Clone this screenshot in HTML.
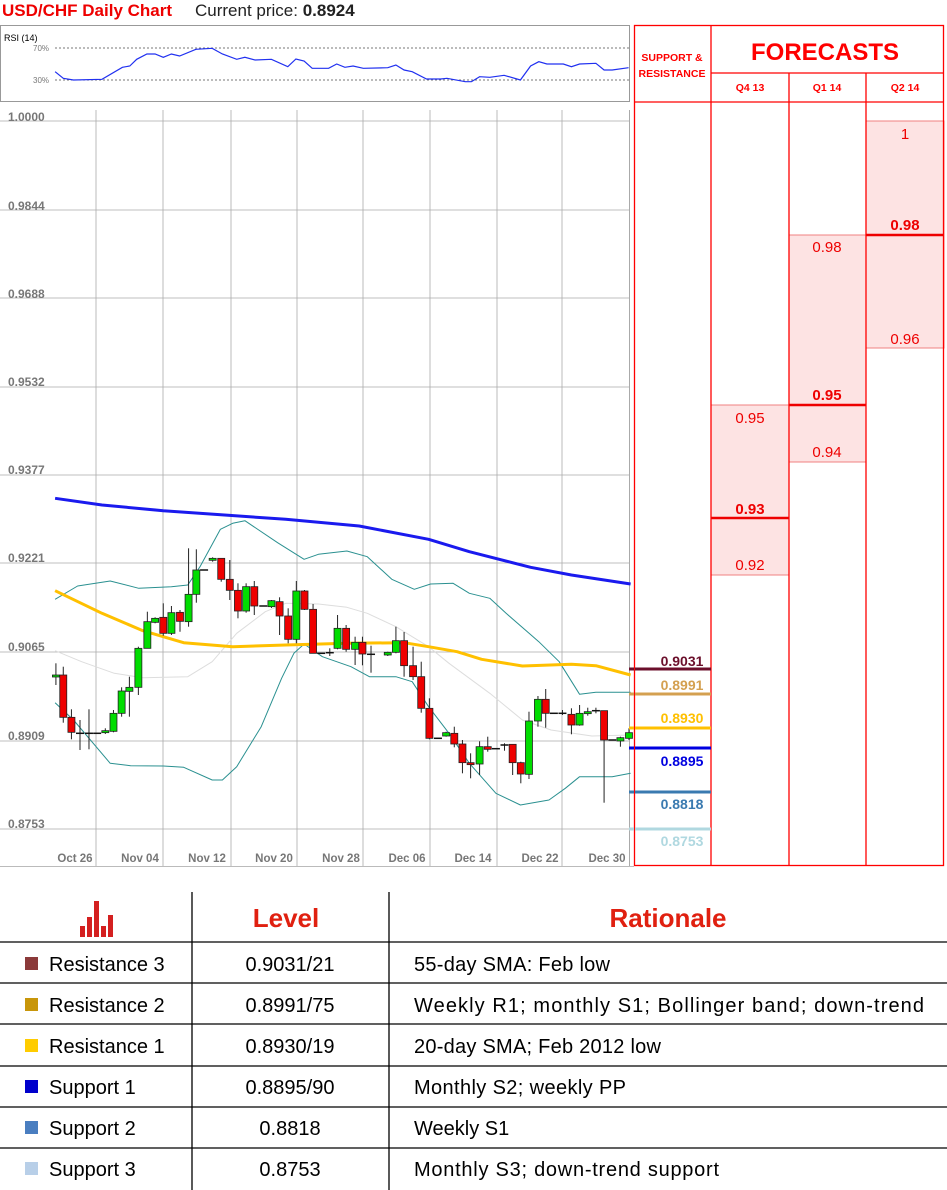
<!DOCTYPE html>
<html><head><meta charset="utf-8"><style>
body{margin:0;background:#fff;width:947px;height:1190px;overflow:hidden;font-family:"Liberation Sans",sans-serif}
svg{display:block}
</style></head><body>
<svg id="s" width="947" height="1190" xmlns="http://www.w3.org/2000/svg" font-family="Liberation Sans, sans-serif">
<text x="2" y="16" font-size="17" font-weight="bold" fill="#e00">USD/CHF Daily Chart</text>
<text x="195" y="16" font-size="17" fill="#222">Current price: <tspan font-weight="bold">0.8924</tspan></text>
<rect x="0.5" y="25.5" width="629" height="76" fill="#fff" stroke="#999"/>
<text x="4" y="41" font-size="9" fill="#000">RSI (14)</text>
<line x1="55" y1="48" x2="629" y2="48" stroke="#777" stroke-dasharray="2,2"/>
<line x1="55" y1="80" x2="629" y2="80" stroke="#777" stroke-dasharray="2,2"/>
<text x="33" y="51" font-size="8" fill="#777">70%</text>
<text x="33" y="83" font-size="8" fill="#777">30%</text>
<g id="g"></g>
<g font-size="12" font-weight="bold" fill="#777">
<text x="8" y="121">1.0000</text><text x="8" y="210">0.9844</text><text x="8" y="298">0.9688</text>
<text x="8" y="386">0.9532</text><text x="8" y="474">0.9377</text><text x="8" y="562">0.9221</text>
<text x="8" y="651">0.9065</text><text x="8" y="740">0.8909</text><text x="8" y="828">0.8753</text>
</g>
<g font-size="11.5" font-weight="bold" fill="#777" text-anchor="middle">
<text x="75" y="862">Oct 26</text><text x="140" y="862">Nov 04</text><text x="207" y="862">Nov 12</text>
<text x="274" y="862">Nov 20</text><text x="341" y="862">Nov 28</text><text x="407" y="862">Dec 06</text>
<text x="473" y="862">Dec 14</text><text x="540" y="862">Dec 22</text><text x="607" y="862">Dec 30</text>
</g>
<line x1="0" y1="866.5" x2="634" y2="866.5" stroke="#bbb"/>
<g fill="#fde3e3" stroke="#f08080">
<rect x="711" y="405" width="78" height="170"/>
<rect x="789" y="235" width="77" height="227"/>
<rect x="866" y="121" width="78" height="227"/>
</g>
<g stroke="#e00" stroke-width="2.5">
<line x1="711" y1="518" x2="789" y2="518"/><line x1="789" y1="405" x2="866" y2="405"/><line x1="866" y1="235" x2="944" y2="235"/>
</g>
<g fill="none" stroke="#f00" stroke-width="1.3">
<rect x="634.5" y="25.5" width="309" height="840"/>
<line x1="711" y1="25" x2="711" y2="866"/><line x1="789" y1="73" x2="789" y2="866"/><line x1="866" y1="73" x2="866" y2="866"/>
<line x1="711" y1="73" x2="944" y2="73"/><line x1="634" y1="102" x2="944" y2="102"/>
</g>
<text x="825" y="60" font-size="24" font-weight="bold" fill="#f00" text-anchor="middle">FORECASTS</text>
<g font-size="10.5" font-weight="bold" fill="#f00" text-anchor="middle">
<text x="672" y="61">SUPPORT &amp;</text><text x="672" y="77">RESISTANCE</text>
<text x="750" y="91">Q4 13</text><text x="827" y="91">Q1 14</text><text x="905" y="91">Q2 14</text>
</g>
<g font-size="15" fill="#e00" text-anchor="middle">
<text x="750" y="423">0.95</text><text x="750" y="570">0.92</text>
<text x="827" y="252">0.98</text><text x="827" y="457">0.94</text>
<text x="905" y="139">1</text><text x="905" y="344">0.96</text>
</g>
<g font-size="15" font-weight="bold" fill="#e00" text-anchor="middle">
<text x="750" y="514">0.93</text><text x="827" y="400">0.95</text><text x="905" y="230">0.98</text>
</g>
<g stroke-width="3">
<line x1="635" y1="669" x2="711" y2="669" stroke="#6b0f2b"/><line x1="629" y1="669" x2="634" y2="669" stroke="#6b0f2b"/>
<line x1="635" y1="694" x2="711" y2="694" stroke="#d4a050"/><line x1="629" y1="694" x2="634" y2="694" stroke="#d4a050"/>
<line x1="635" y1="728" x2="711" y2="728" stroke="#ffc000"/><line x1="629" y1="728" x2="634" y2="728" stroke="#ffc000"/>
<line x1="635" y1="748" x2="711" y2="748" stroke="#0000e0"/><line x1="629" y1="748" x2="634" y2="748" stroke="#0000e0"/>
<line x1="635" y1="792" x2="711" y2="792" stroke="#3a7ab0"/><line x1="629" y1="792" x2="634" y2="792" stroke="#3a7ab0"/>
<line x1="635" y1="829" x2="711" y2="829" stroke="#b0d8e0"/><line x1="629" y1="829" x2="634" y2="829" stroke="#b0d8e0"/>
</g>
<g font-size="14" font-weight="bold" text-anchor="middle">
<text x="682" y="666" fill="#6b0f2b">0.9031</text>
<text x="682" y="690" fill="#d4a050">0.8991</text>
<text x="682" y="723" fill="#ffc000">0.8930</text>
<text x="682" y="766" fill="#0000e0">0.8895</text>
<text x="682" y="809" fill="#3a7ab0">0.8818</text>
<text x="682" y="846" fill="#b0d8e0">0.8753</text>
</g>
<g stroke="#000" stroke-width="1.3">
<line x1="192" y1="892" x2="192" y2="1190"/><line x1="389" y1="892" x2="389" y2="1190"/>
<line x1="0" y1="942" x2="947" y2="942"/><line x1="0" y1="983" x2="947" y2="983"/>
<line x1="0" y1="1024" x2="947" y2="1024"/><line x1="0" y1="1066" x2="947" y2="1066"/>
<line x1="0" y1="1107" x2="947" y2="1107"/><line x1="0" y1="1148" x2="947" y2="1148"/>
</g>
<g fill="#d42020">
<rect x="80" y="926" width="5" height="11"/><rect x="87" y="917" width="5" height="20"/><rect x="94" y="901" width="5" height="36"/><rect x="101" y="926" width="5" height="11"/><rect x="108" y="915" width="5" height="22"/>
</g>
<text x="286" y="927" font-size="26" font-weight="bold" fill="#e02010" text-anchor="middle">Level</text>
<text x="668" y="927" font-size="26" font-weight="bold" fill="#e02010" text-anchor="middle">Rationale</text>
<g font-size="20" fill="#000">
<rect x="25" y="957" width="13" height="13" fill="#8b3a3a"/><text x="49" y="971">Resistance 3</text>
<rect x="25" y="998" width="13" height="13" fill="#c8960a"/><text x="49" y="1012">Resistance 2</text>
<rect x="25" y="1039" width="13" height="13" fill="#ffcc00"/><text x="49" y="1053">Resistance 1</text>
<rect x="25" y="1080" width="13" height="13" fill="#0000cc"/><text x="49" y="1094">Support 1</text>
<rect x="25" y="1121" width="13" height="13" fill="#4a7ec0"/><text x="49" y="1135">Support 2</text>
<rect x="25" y="1162" width="13" height="13" fill="#b8cfe8"/><text x="49" y="1176">Support 3</text>
</g>
<g font-size="20" fill="#000" text-anchor="middle">
<text x="290" y="971">0.9031/21</text><text x="290" y="1012">0.8991/75</text><text x="290" y="1053">0.8930/19</text>
<text x="290" y="1094">0.8895/90</text><text x="290" y="1135">0.8818</text><text x="290" y="1176">0.8753</text>
</g>
<g font-size="20" fill="#000">
<text x="414" y="971" textLength="196">55-day SMA: Feb low</text>
<text x="414" y="1012" textLength="510">Weekly R1; monthly S1; Bollinger band; down-trend</text>
<text x="414" y="1053" textLength="247">20-day SMA; Feb 2012 low</text>
<text x="414" y="1094" textLength="212">Monthly S2; weekly PP</text>
<text x="414" y="1135">Weekly S1</text>
<text x="414" y="1176" textLength="305">Monthly S3; down-trend support</text>
</g>
</svg>
<script>
var g=document.getElementById('g'),h='';
var X=function(x){return (x/2.45).toFixed(1)},Y=function(y){return (480+y/3).toFixed(1)};
[121,210,298,387,475,563,652,741,829].forEach(function(y){h+='<line x1="0" y1="'+y+'" x2="629" y2="'+y+'" stroke="#aaa" stroke-width="0.8"/>'});
[96,163,231,297,363,430,497,562].forEach(function(x){h+='<line x1="'+x+'" y1="110" x2="'+x+'" y2="866" stroke="#aaa" stroke-width="0.8"/>'});
h+='<line x1="629.5" y1="110" x2="629.5" y2="866" stroke="#aaa"/>';
function pl(pts,c,w){var s=pts.map(function(p){return X(p[0])+','+Y(p[1])}).join(' ');return '<polyline points="'+s+'" fill="none" stroke="'+c+'" stroke-width="'+w+'" stroke-linejoin="round"/>'}
var rsi=[[135,215],[155,235],[180,240],[250,238],[300,202],[318,198],[335,178],[360,162],[380,162],[400,172],[420,162],[440,168],[480,148],[520,145],[545,162],[580,178],[600,172],[625,180],[665,178],[705,200],[725,177],[745,183],[765,205],[805,205],[825,192],[845,202],[865,198],[890,205],[950,203],[970,195],[990,210],[1010,215],[1045,237],[1080,237],[1095,235],[1140,245],[1155,245],[1175,230],[1200,232],[1235,226],[1275,240],[1300,198],[1320,185],[1340,192],[1380,192],[1400,200],[1420,192],[1460,190],[1480,210],[1500,210],[1540,203]];
h+='<polyline points="'+rsi.map(function(p){return X(p[0])+','+(p[1]/3).toFixed(1)}).join(' ')+'" fill="none" stroke="#2030f0" stroke-width="1.2"/>';
h+=pl([[135,512],[200,545],[280,580],[350,593],[460,590],[520,545],[580,460],[650,395],[700,370],[780,372],[850,382],[900,400],[970,440],[1050,500],[1100,550],[1200,640],[1280,720],[1350,750],[1450,768],[1545,765]],'#ddd',1);
h+=pl([[135,358],[190,318],[270,303],[340,325],[420,320],[460,315],[490,260],[540,148],[570,130],[600,122],[680,188],[745,238],[780,223],[850,213],[900,230],[960,298],[1015,328],[1055,312],[1110,310],[1150,340],[1200,355],[1240,400],[1320,485],[1370,545],[1420,643],[1460,637],[1545,637]],'#2a9090',1);
h+=pl([[135,668],[180,720],[270,850],[320,857],[400,858],[450,862],[520,900],[545,900],[580,860],[640,740],[690,595],[720,520],[745,492],[790,530],[860,560],[905,590],[970,590],[1010,605],[1050,680],[1100,760],[1150,850],[1215,940],[1275,975],[1345,960],[1385,925],[1420,890],[1500,890],[1545,880]],'#2a9090',1);
h+=pl([[135,55],[250,75],[400,92],[550,105],[700,118],[880,138],[1050,178],[1150,215],[1300,262],[1400,285],[1545,312]],'#1a1aee',3);
h+=pl([[135,332],[250,400],[350,452],[450,488],[570,500],[700,495],[850,490],[990,488],[1050,500],[1120,515],[1180,538],[1280,558],[1400,553],[1460,557],[1545,585]],'#ffc000',3);
var c=[[137,'g',585,591,550,615],[155,'r',585,712,560,728],[175,'r',712,757,688,778],[196,'d',760,760,720,810],[218,'d',760,760,688,808],[238,'d',760,760,760,760],[258,'g',752,758,745,762],[278,'g',700,754,690,757],[298,'g',633,700,622,710],[317,'g',622,634,590,710],[339,'g',505,622,500,645],[361,'g',425,505,395,505],[380,'g',415,427,412,430],[400,'r',412,460,370,467],[420,'g',398,460,378,465],[441,'r',397,424,390,455],[462,'g',343,425,205,440],[481,'g',270,343,208,368],[500,'d',270,270,270,270],[521,'g',235,241,232,245],[542,'r',235,298,235,305],[563,'r',298,331,240,360],[583,'r',331,393,310,415],[603,'g',320,393,310,398],[623,'r',320,378,303,405],[645,'d',378,378,378,378],[665,'g',362,380,360,384],[685,'r',365,408,352,465],[706,'r',408,478,385,490],[726,'g',333,478,303,490],[746,'r',333,388,330,390],[767,'r',388,520,372,520],[787,'d',520,520,520,520],[808,'d',518,518,505,528],[827,'g',445,505,405,508],[848,'r',445,508,435,515],[870,'g',487,508,470,555],[888,'r',487,522,470,556],[909,'d',523,523,497,578],[950,'g',517,525,515,528],[970,'g',482,517,440,520],[990,'r',482,557,456,590],[1012,'r',557,590,500,600],[1032,'r',590,685,545,698],[1052,'r',685,775,655,778],[1073,'d',775,775,775,775],[1093,'g',758,768,755,770],[1113,'r',760,792,740,802],[1133,'r',792,848,780,880],[1153,'r',848,852,820,895],[1175,'g',800,852,784,885],[1195,'r',800,808,770,815],[1215,'d',806,806,806,806],[1236,'d',795,795,790,812],[1256,'r',793,848,793,885],[1276,'r',848,882,845,910],[1296,'g',723,883,695,897],[1318,'g',658,723,648,740],[1337,'r',658,700,627,743],[1357,'d',700,700,700,700],[1378,'d',700,700,690,705],[1400,'r',703,735,685,763],[1420,'g',700,735,675,737],[1440,'g',695,700,683,707],[1460,'d',692,692,683,700],[1480,'r',692,780,692,968],[1500,'d',780,780,780,780],[1520,'g',773,783,770,800],[1541,'g',758,775,745,780]];
c.forEach(function(k){var x=k[0]/2.45;h+='<line x1="'+x+'" y1="'+Y(k[4])+'" x2="'+x+'" y2="'+Y(k[5])+'" stroke="#222" stroke-width="1"/>';
if(k[1]=='d'){h+='<line x1="'+(x-4)+'" y1="'+Y(k[2])+'" x2="'+(x+4)+'" y2="'+Y(k[2])+'" stroke="#111" stroke-width="1.5"/>'}
else{var t=480+k[2]/3,b=480+k[3]/3;if(b-t<2)b=t+2;h+='<rect x="'+(x-3.5)+'" y="'+t+'" width="7" height="'+(b-t)+'" fill="'+(k[1]=='g'?'#00dd00':'#ee0000')+'" stroke="#222" stroke-width="0.8"/>'}});
g.innerHTML=h;
</script>
</body></html>
